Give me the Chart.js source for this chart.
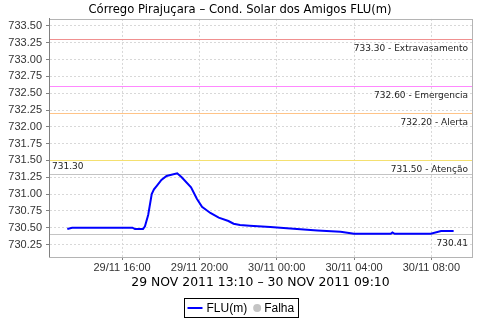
<!DOCTYPE html>
<html>
<head>
<meta charset="utf-8">
<script src="https://cdn.jsdelivr.net/npm/chart.js@4.4.1/dist/chart.umd.min.js"></script>
<style>
  html, body { margin: 0; padding: 0; background: #fff; }
  #grafico { display: block; }
</style>
</head>
<body>
<canvas id="grafico" width="480" height="320"></canvas>
<script>
// ------------- Datos de la grafica -------------
const horarios = [
  '29/11 13:10', '29/11 13:25', '29/11 16:32', '29/11 16:40', '29/11 17:05',
  '29/11 17:11', '29/11 17:21', '29/11 17:32', '29/11 17:39', '29/11 17:49',
  '29/11 18:02', '29/11 18:18', '29/11 18:51', '29/11 19:05', '29/11 19:34',
  '29/11 19:52', '29/11 20:08', '29/11 20:34', '29/11 21:00', '29/11 21:30',
  '29/11 21:46', '29/11 22:06', '29/11 22:36', '29/11 23:40', '30/11 00:42',
  '30/11 02:06', '30/11 03:18', '30/11 04:00', '30/11 05:54', '30/11 05:59',
  '30/11 06:06', '30/11 07:58', '30/11 08:30', '30/11 09:09'
];
const nivelFLU = [
  730.48, 730.50, 730.50, 730.48, 730.48,
  730.52, 730.69, 731.00, 731.07, 731.13,
  731.21, 731.27, 731.31, 731.25, 731.10,
  730.93, 730.81, 730.72, 730.65, 730.60,
  730.56, 730.54, 730.53, 730.51, 730.49,
  730.46, 730.44, 730.41, 730.41, 730.43,
  730.41, 730.41, 730.45, 730.45
];

// Limites (cotas) y sus textos
const limitesValor = [733.30, 732.60, 732.20, 731.50, 731.30, 730.41];
const limitesTexto = ['733.30 - Extravasamento', '732.60 - Emergencia', '732.20 - Alerta',
                      '731.50 - Atenção', '731.30', '730.41'];
const limitesCor = ['#f09090', '#ff88ff', '#ffc488', '#f4e070', '#c4c4c4', '#c4c4c4'];

// Ticks
const ticksY = [730.25, 730.50, 730.75, 731.00, 731.25, 731.50, 731.75, 732.00,
                732.25, 732.50, 732.75, 733.00, 733.25, 733.50];
const ticksXHoras = [16, 20, 24, 28, 32];

const tituloGrafica = 'Córrego Pirajuçara – Cond. Solar dos Amigos FLU(m)';
const tituloEjeX = '29 NOV 2011 13:10 – 30 NOV 2011 09:10';
const leyendaTextos = ['FLU(m)', 'Falha'];

// convierte "dd/mm hh:mm" en horas desde 29/11 00:00
function aHoras(txt) {
  const partes = txt.split(' ');
  const dia = parseInt(partes[0].split('/')[0]);
  const hm = partes[1].split(':');
  return (dia - 29) * 24 + parseInt(hm[0]) + parseInt(hm[1]) / 60;
}

function etiquetaHora(h) {
  const dia = h < 24 ? '29/11' : '30/11';
  const hh = ((h % 24) + '').padStart(2, '0');
  return dia + ' ' + hh + ':00';
}

puntos = horarios.map((t, i) => ({ x: aHoras(t), y: nivelFLU[i] }));

// ------------- Plugins -------------
const pluginLimites = {
  id: 'limites',
  beforeDatasetsDraw(chart) {
    const ctx = chart.ctx;
    const area = chart.chartArea;
    const y = chart.scales.y;
    ctx.save();
    for (let i = 0; i < limitesValor.length; i++) {
      const py = Math.round(y.getPixelForValue(limitesValor[i])) + 0.5;
      ctx.strokeStyle = limitesCor[i];
      ctx.lineWidth = 1;
      ctx.beginPath();
      ctx.moveTo(area.left, py);
      ctx.lineTo(area.right, py);
      ctx.stroke();

      ctx.fillStyle = '#222';
      ctx.font = '9px "DejaVu Sans"';
      ctx.textBaseline = 'middle';
      if (limitesTexto[i] === '731.30') {
        // etiqueta arriba a la izquierda
        ctx.textAlign = 'left';
        ctx.fillText(limitesTexto[i], area.left + 3, py - 8);
      } else {
        ctx.textAlign = 'right';
        ctx.fillText(limitesTexto[i], area.right - 4, py + 9);
      }
    }
    ctx.restore();
  }
};

const pluginBordes = {
  id: 'bordes',
  afterDraw(chart) {
    const ctx = chart.ctx;
    const a = chart.chartArea;
    ctx.save();
    ctx.strokeStyle = '#b4b4b4';
    ctx.lineWidth = 1;
    ctx.strokeRect(Math.round(a.left) + 0.5, Math.round(a.top) + 0.5,
      Math.round(a.right - a.left), Math.round(a.bottom - a.top));
    ctx.strokeStyle = '#808080';
    ctx.beginPath();
    ctx.moveTo(Math.round(a.left) + 0.5, a.top);
    ctx.lineTo(Math.round(a.left) + 0.5, a.bottom);
    ctx.stroke();

    // Leyenda propia con caja
    ctx.font = '12px "Liberation Sans"';
    const wTexto1 = ctx.measureText(leyendaTextos[0]).width;
    const wTexto2 = ctx.measureText(leyendaTextos[1]).width;
    const anchoTotal = 3 + 15 + 4 + wTexto1 + 6 + 8 + 3 + wTexto2 + 4;
    const x0 = Math.round(240.5 - anchoTotal / 2) + 0.5;
    const yTop = 298.5, alto = 19;
    const yc = yTop + alto / 2;
    ctx.strokeStyle = '#000';
    ctx.strokeRect(x0, yTop, Math.round(anchoTotal), alto);

    let x = x0 + 3;
    ctx.strokeStyle = chart.data.datasets[0].borderColor;
    ctx.lineWidth = 2;
    ctx.beginPath();
    ctx.moveTo(x, yc);
    ctx.lineTo(x + 15, yc);
    ctx.stroke();
    x += 19;
    ctx.fillStyle = '#000';
    ctx.textBaseline = 'middle';
    ctx.textAlign = 'left';
    ctx.fillText(leyendaTextos[0], x, yc + 0.5);
    x += wTexto1 + 6 + 4;
    ctx.fillStyle = chart.data.datasets[1].backgroundColor;
    ctx.beginPath();
    ctx.arc(x, yc, 4, 0, Math.PI * 2);
    ctx.fill();
    x += 7;
    ctx.fillStyle = '#000';
    ctx.fillText(leyendaTextos[1], x, yc + 0.5);
    ctx.restore();
  }
};

// ------------- Grafica -------------
const config = {
  type: 'line',
  data: {
    datasets: [{
      label: leyendaTextos[0],
      data: puntos,
      borderColor: '#0000ff',
      backgroundColor: '#0000ff',
      borderWidth: 2,
      pointRadius: 0,
      tension: 0
    }, {
      label: leyendaTextos[1],
      data: [],
      borderColor: '#c4c4c4',
      backgroundColor: '#c4c4c4'
    }]
  },
  options: {
    responsive: false,
    animation: false,
    layout: { padding: { left: 8, right: 8, top: 0, bottom: 27 } },
    plugins: {
      title: {
        display: true,
        text: tituloGrafica,
        color: '#000',
        font: { family: 'DejaVu Sans', size: 11.6, weight: 'normal' },
        padding: { top: 3, bottom: 2 }
      },
      legend: { display: false },
      tooltip: { enabled: false }
    },
    scales: {
      x: {
        type: 'linear',
        min: 12.22,
        max: 34.1,
        afterBuildTicks: (s) => { s.ticks = ticksXHoras.map(v => ({ value: v })); },
        afterFit: (s) => { s.height = 36; },
        ticks: {
          color: '#333',
          font: { family: 'Liberation Sans', size: 11 },
          padding: 1,
          maxRotation: 0,
          callback: (v) => etiquetaHora(v)
        },
        grid: {
          color: '#d8d8d8',
          tickColor: '#808080',
          tickLength: 3,
          tickBorderDash: []
        },
        border: { color: '#b4b4b4', dash: [2, 2] },
        title: {
          display: true,
          text: tituloEjeX,
          color: '#000',
          font: { family: 'DejaVu Sans', size: 12.4 },
          padding: { top: 0, bottom: 3 }
        }
      },
      y: {
        type: 'linear',
        min: 730.065,
        max: 733.604,
        afterBuildTicks: (s) => { s.ticks = ticksY.map(v => ({ value: v })); },
        afterFit: (s) => { s.width = 41; },
        ticks: {
          color: '#333',
          font: { family: 'Liberation Sans', size: 11 },
          padding: 4,
          callback: (v) => v.toFixed(2)
        },
        grid: {
          color: '#d8d8d8',
          tickColor: '#808080',
          tickLength: 3,
          tickBorderDash: []
        },
        border: { color: '#808080', dash: [2, 2] }
      }
    }
  },
  plugins: [pluginLimites, pluginBordes]
};

grafica = new Chart(document.getElementById('grafico'), config);
</script>
</body>
</html>
